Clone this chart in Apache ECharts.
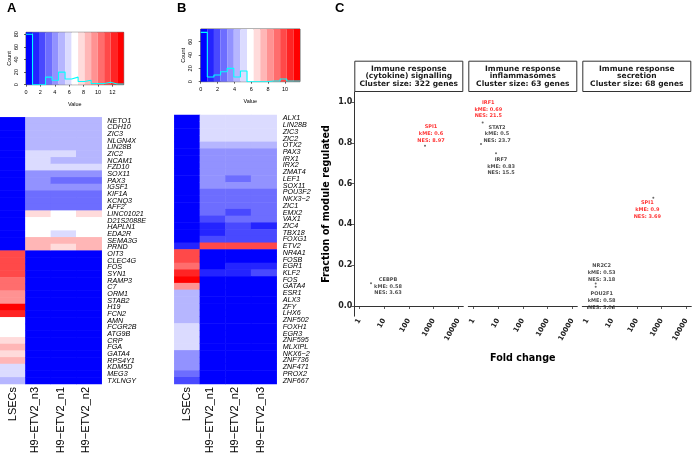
<!DOCTYPE html>
<html><head><meta charset="utf-8">
<script src="https://cdn.jsdelivr.net/npm/echarts@6/dist/echarts.min.js"></script>
<style>html,body{margin:0;padding:0;background:#fff}#c{width:692px;height:461px}</style>
</head><body><div id="c"></div>
<script>
// ---------- Panel A heatmap ----------
const colsA = ['LSECs', 'H9\u2212ETV2_n3', 'H9\u2212ETV2_n1', 'H9\u2212ETV2_n2'];
const genesA = ['NETO1','CDH10','ZIC3','NLGN4X','LIN28B','ZIC2','NCAM1','FZD10','SOX11','PAX3','IGSF1','KIF1A','KCNQ3','AFF2','LINC01021','D21S2088E','HAPLN1','EDA2R','SEMA3G','PRND','OIT3','CLEC4G','FOS','SYN1','RAMP3','C7','ORM1','STAB2','H19','FCN2','AMN','FCGR2B','ATG9B','CRP','FGA','GATA4','RPS4Y1','KDM5D','MEG3','TXLNGY'];
const lsecA = [0.4,0.4,0.4,0.4,0.4,0.4,0.4,0.4,0.4,0.4,0.4,0.4,0.4,0.4,0.4,0.4,0.4,0.4,0.4,0.4,
               11.3,11.3,11.3,11.3,10.4,10.4,9.5,9.5,13.1,12.2,6.8,6.8,6.8,7.7,8.6,7.7,8.6,5.9,5.9,5.0];
const n3A = [5.0,5.0,5.0,5.0,5.0,5.9,5.9,5.9,4.1,4.1,4.1,3.2,3.2,3.2,7.7,6.8,6.8,6.8,8.6,8.6,
             0.4,0.4,0.4,0.4,0.4,0.4,0.4,0.4,0.4,0.4,0.4,0.4,0.4,0.4,0.4,0.4,0.4,0.4,0.4,0.4];
const n1A = [5.0,5.0,5.0,5.0,5.0,5.9,5.0,5.9,4.1,3.2,4.1,3.2,3.2,3.2,6.8,6.8,6.8,5.9,8.6,7.7,
             0.4,0.4,0.4,0.4,0.4,0.4,0.4,0.4,0.4,0.4,0.4,0.4,0.4,0.4,0.4,0.4,0.4,0.4,0.4,0.4];
const n2A = [5.0,5.0,5.0,5.0,5.0,5.0,5.0,5.9,4.1,3.2,4.1,3.2,3.2,3.2,7.7,6.8,6.8,6.8,8.6,8.6,
             0.4,0.4,0.4,0.4,0.4,0.4,0.4,0.4,0.4,0.4,0.4,0.4,0.4,0.4,0.4,0.4,0.4,0.4,0.4,0.4];
// Panel A colour key / histogram
const keyMaxA = 13.57;
const histCountsA = [80,0,0,12,7,20,9,12,5,7,2,2,4,1,1];
const histYMaxA = 83.2;
const histXTicksA = [0,2,4,6,8,10,12];
const histYTicksA = [0,20,40,60,80];

// ---------- Panel B heatmap ----------
const colsB = ['LSECs', 'H9\u2212ETV2_n1', 'H9\u2212ETV2_n2', 'H9\u2212ETV2_n3'];
const genesB = ['ALX1','LIN28B','ZIC3','ZIC2','OTX2','PAX3','IRX1','IRX2','ZMAT4','LEF1','SOX11','POU3F2','NKX3\u22122','ZIC1','EMX2','VAX1','ZIC4','TBX18','FOXG1','ETV2','NR4A1','FOSB','EGR1','KLF2','FOS','GATA4','ESR1','ALX3','ZFY','LHX6','ZNF502','FOXH1','EGR3','ZNF595','MLXIPL','NKX6\u22122','ZNF736','ZNF471','PROX2','ZNF667'];
const lsecB = [0.4,0.4,0.4,0.4,0.4,0.4,0.4,0.4,0.4,0.4,0.4,0.4,0.4,0.4,0.4,0.4,0.4,0.4,0.4,1.2,
               9.8,9.8,9.0,10.6,11.4,8.2,4.3,4.3,4.3,4.3,4.3,5.1,5.1,5.1,5.1,3.5,3.5,3.5,2.7,2.0];
const n1B = [5.1,5.1,5.1,5.1,4.3,3.5,3.5,3.5,3.5,3.5,3.5,2.7,2.7,2.7,2.7,2.0,1.2,1.2,2.0,9.8,
             0.4,0.4,0.4,1.2,0.4,0.4,0.4,0.4,0.4,0.4,0.4,0.4,0.4,0.4,0.4,0.4,0.4,0.4,0.4,0.4];
const n2B = [5.1,5.1,5.1,5.1,4.3,3.5,3.5,3.5,3.5,2.7,3.5,2.7,2.7,2.7,2.0,2.7,2.0,2.0,2.0,9.8,
             0.4,0.4,1.2,1.2,0.4,0.4,0.4,0.4,0.4,0.4,0.4,0.4,0.4,0.4,0.4,0.4,0.4,0.4,0.4,0.4];
const n3B = [5.1,5.1,5.1,5.1,4.3,3.5,3.5,3.5,3.5,3.5,3.5,2.7,2.7,2.7,2.7,2.7,1.2,2.0,2.0,9.8,
             0.4,0.4,1.2,2.0,0.4,0.4,0.4,0.4,0.4,0.4,0.4,0.4,0.4,0.4,0.4,0.4,0.4,0.4,0.4,0.4];
const keyMaxB = 11.78;
const histCountsB = [74,7,10,15,20,7,16,0,0,0,1,1,4,1,1];
const histYMaxB = 79;
const histXTicksB = [0,2,4,6,8,10];
const histYTicksB = [0,20,40,60];
const nKeyColors = 15;

// ---------- Panel C ----------
const facetTitles = ['Immune response\n(cytokine) signalling\nCluster size: 322 genes',
                     'Immune response\ninflammasomes\nCluster size: 63 genes',
                     'Immune response\nsecretion\nCluster size: 68 genes'];
const tfFacet = [0,0,1,1,1,2,2,2];
const tfName = ['SPI1','CEBPB','IRF1','STAT2','IRF7','SPI1','NR2C2','POU2F1'];
const tfFold = [451, 2.98, 2.4, 2.06, 8.3, 464, 2.19, 2.19];
const tfFraction = [0.786, 0.111, 0.90, 0.794, 0.749, 0.531, 0.110, 0.094];
const tfKME = ['0.6','0.58','0.69','0.5','0.83','0.9','0.53','0.58'];
const tfNES = ['8.97','3.63','21.5','23.7','15.5','3.69','3.18','3.04'];
const tfHighlight = [true,false,true,false,false,true,false,false];
const foldTicks = [1,10,100,1000,10000];
const fracTicks = [0,0.2,0.4,0.6,0.8,1.0];

// ---------- styling / layout ----------
const labelOffsets = [[6,-12],[17,3],[5.6,-13],[16,-10],[5,13],[-6,12.3],[6,-11],[6,14]];
const facetLefts = [354.3, 468.3, 582.3];
const facetW = 109, facetTop = 91.8, facetH = 224.4;
const stripTop = 60.7, stripH = 30.3;

function keyColor(i) {
  const mid = (nKeyColors - 1) / 2;
  if (i < mid) { const c = Math.round(255 * i / mid); return 'rgb(' + c + ',' + c + ',255)'; }
  if (i === mid) return '#ffffff';
  const c = Math.round(255 * (nKeyColors - 1 - i) / mid); return 'rgb(255,' + c + ',' + c + ')';
}
function keyEdges(max) { const w = max / nKeyColors; const e = []; for (let i = 0; i <= nKeyColors; i++) e.push(i * w); return e; }
function keyPieces(max) {
  const e = keyEdges(max);
  return e.slice(0, -1).map((v, i) => ({ gte: v, lt: i === nKeyColors - 1 ? max + 1 : e[i + 1], color: keyColor(i) }));
}
function bandData(max) { const e = keyEdges(max); return e.slice(0, -1).map((v, i) => [v, e[i + 1], i]); }
function stepData(max, counts) {
  const e = keyEdges(max);
  const d = counts.map((c, i) => [e[i], c]);
  d.push([e[e.length - 1], counts[counts.length - 1]]);
  return d;
}
function heatData(cols) {
  const d = [];
  cols.forEach((arr, c) => arr.forEach((v, r) => d.push([c, r, v])));
  return d;
}
const smallFont = { fontFamily: 'Liberation Sans', fontSize: 5.5, color: '#000' };

function histAxes(gi, xmax, ymax, xt, yt) {
  return {
    x: { type: 'value', gridIndex: gi, min: 0, max: xmax, name: 'Value', nameLocation: 'middle', nameGap: 17,
         nameTextStyle: smallFont,
         axisLine: { show: false }, splitLine: { show: false },
         axisTick: { show: true, length: 2, lineStyle: { color: '#000', width: 0.6 }, customValues: xt },
         axisLabel: Object.assign({ margin: 5, customValues: xt }, smallFont) },
    y: { type: 'value', gridIndex: gi, min: 0, max: ymax, name: 'Count', nameLocation: 'middle', nameGap: 14, nameRotate: 90,
         nameTextStyle: smallFont,
         axisLine: { show: false }, splitLine: { show: false },
         axisTick: { show: true, length: 2, lineStyle: { color: '#000', width: 0.6 }, customValues: yt },
         axisLabel: Object.assign({ margin: 7, rotate: 90, customValues: yt }, smallFont) }
  };
}
function heatAxes(gi, cols, genes, margin) {
  return {
    x: { type: 'category', gridIndex: gi, data: cols, position: 'bottom',
         axisLine: { show: false }, axisTick: { show: false }, splitLine: { show: false },
         axisLabel: { rotate: 90, interval: 0, fontSize: 11, fontFamily: 'Liberation Sans', color: '#000', margin: 3,
                      formatter: v => v.indexOf('_') >= 0 ? '{h|' + v + '}' : v,
                      rich: { h: { fontSize: 11, fontFamily: 'Liberation Sans', color: '#000', padding: [0, 0, 6, 0] } } } },
    y: { type: 'category', gridIndex: gi, data: genes, inverse: true, position: 'right',
         axisLine: { show: false }, axisTick: { show: false }, splitLine: { show: false },
         axisLabel: { interval: 0, fontSize: 7.2, fontStyle: 'italic', fontFamily: 'Liberation Sans', color: '#000', margin: margin } }
  };
}
const hA = histAxes(0, keyMaxA, histYMaxA, histXTicksA, histYTicksA);
const mA = heatAxes(1, colsA, genesA, 5.6);
const hB = histAxes(2, keyMaxB, histYMaxB, histXTicksB, histYTicksB);
const mB = heatAxes(3, colsB, genesB, 6);

const facetX = facetLefts.map((l, f) => ({
  type: 'log', logBase: 10, gridIndex: 4 + f, min: Math.pow(10, -0.2), max: Math.pow(10, 4.2),
  name: f === 1 ? 'Fold change' : '', nameLocation: 'middle', nameGap: 37,
  nameTextStyle: { fontFamily: 'DejaVu Sans', fontWeight: 'bold', fontSize: 9.6, color: '#000' },
  axisLine: { show: true, lineStyle: { color: '#333', width: 1 } },
  axisTick: { show: true, length: 3, lineStyle: { color: '#333', width: 0.8 }, customValues: foldTicks },
  splitLine: { show: false }, minorTick: { show: false },
  axisLabel: { customValues: foldTicks, rotate: 60, margin: 3, fontFamily: 'DejaVu Sans', fontWeight: 'bold', fontSize: 7, color: '#222',
               formatter: v => String(Math.round(v)) }
}));
const facetY = facetLefts.map((l, f) => ({
  type: 'value', gridIndex: 4 + f, min: -0.05, max: 1.05, show: f === 0,
  name: f === 0 ? 'Fraction of module regulated' : '', nameLocation: 'middle', nameGap: 23, nameRotate: 90,
  nameTextStyle: { fontFamily: 'DejaVu Sans', fontWeight: 'bold', fontSize: 9.6, color: '#000' },
  axisLine: { show: f === 0, lineStyle: { color: '#333', width: 1 } },
  axisTick: { show: f === 0, length: 3, lineStyle: { color: '#333', width: 0.8 }, customValues: fracTicks },
  splitLine: { show: false },
  axisLabel: { show: f === 0, customValues: fracTicks, margin: 2, fontFamily: 'DejaVu Sans', fontWeight: 'bold', fontSize: 8, color: '#222',
               formatter: v => v.toFixed(1) }
}));

function bandSeries(ai, max, ymax) {
  return {
    type: 'custom', xAxisIndex: ai, yAxisIndex: ai, z: 1, silent: true,
    data: bandData(max), encode: { x: [0, 1] },
    renderItem: (params, api) => {
      const p0 = api.coord([api.value(0), ymax]);
      const p1 = api.coord([api.value(1), 0]);
      return { type: 'rect', shape: { x: p0[0], y: p0[1], width: p1[0] - p0[0], height: p1[1] - p0[1] },
               style: { fill: keyColor(api.value(2)) } };
    }
  };
}
function lineSeries(ai, max, counts) {
  return { type: 'line', xAxisIndex: ai, yAxisIndex: ai, z: 3, step: 'end', showSymbol: false, silent: true,
           data: stepData(max, counts), lineStyle: { color: '#00FFFF', width: 1.1 } };
}
function heatSeries(ai, cols) {
  return { type: 'heatmap', xAxisIndex: ai, yAxisIndex: ai, data: heatData(cols), silent: true,
           itemStyle: { borderWidth: 0 }, emphasis: { disabled: true } };
}

const facetSeries = facetLefts.map((l, f) => ({
  type: 'scatter', xAxisIndex: 4 + f, yAxisIndex: 4 + f, symbolSize: 2, z: 5, silent: true,
  itemStyle: { color: '#444' },
  label: { show: true, position: 'inside', fontFamily: 'DejaVu Sans', fontWeight: 'bold', fontSize: 5, lineHeight: 6.8,
           align: 'center', verticalAlign: 'middle' },
  data: tfName.map((n, i) => i).filter(i => tfFacet[i] === f).map(i => ({
    name: tfName[i], value: [tfFold[i], tfFraction[i]],
    label: { offset: labelOffsets[i], color: tfHighlight[i] ? '#FF0000' : '#222',
             formatter: tfName[i] + '\nkME: ' + tfKME[i] + '\nNES: ' + tfNES[i] }
  }))
}));

const grids = [
  { left: 26, top: 32.3, width: 97.7, height: 52.4, show: true, borderColor: '#000', borderWidth: 0.6, backgroundColor: 'transparent' },
  { left: 0, top: 117.3, width: 101.7, height: 266.7 },
  { left: 200.7, top: 29, width: 99.3, height: 52.7, show: true, borderColor: '#000', borderWidth: 0.6, backgroundColor: 'transparent' },
  { left: 174.3, top: 115, width: 102.4, height: 269 }
].concat(facetLefts.map(l => ({ left: l, top: facetTop, width: facetW, height: facetH })));
grids.forEach(g => { g.containLabel = false; g.outerBoundsMode = 'none'; });

const graphics = [];
[['A', 7], ['B', 177], ['C', 335]].forEach(([t, x]) => graphics.push({
  type: 'text', left: x, top: 1.5, style: { text: t, font: 'bold 13px "Liberation Sans"', fill: '#000' }
}));
facetLefts.forEach((l, f) => {
  graphics.push({ type: 'rect', shape: { x: l + 0.5, y: stripTop + 0.5, width: facetW - 1, height: stripH },
                  style: { fill: '#fff', stroke: '#333', lineWidth: 1 }, z: 10 });
  graphics.push({ type: 'text', x: l + facetW / 2, y: stripTop + stripH / 2 + 0.5, z: 11,
                  style: { text: facetTitles[f], align: 'center', verticalAlign: 'middle', fontFamily: 'DejaVu Sans',
                           fontWeight: 'bold', fontSize: 7.5, lineHeight: 7.8, fill: '#1a1a1a' } });
});

const chart = echarts.init(document.getElementById('c'), null, { renderer: 'canvas' });
chart.setOption({
  animation: false,
  backgroundColor: '#fff',
  grid: grids,
  xAxis: [hA.x, mA.x, hB.x, mB.x].concat(facetX),
  yAxis: [hA.y, mA.y, hB.y, mB.y].concat(facetY),
  visualMap: [
    { type: 'piecewise', show: false, seriesIndex: 2, pieces: keyPieces(keyMaxA) },
    { type: 'piecewise', show: false, seriesIndex: 5, pieces: keyPieces(keyMaxB) }
  ],
  series: [
    bandSeries(0, keyMaxA, histYMaxA), lineSeries(0, keyMaxA, histCountsA), heatSeries(1, [lsecA, n3A, n1A, n2A]),
    bandSeries(2, keyMaxB, histYMaxB), lineSeries(2, keyMaxB, histCountsB), heatSeries(3, [lsecB, n1B, n2B, n3B])
  ].concat(facetSeries),
  graphic: graphics
});
</script></body></html>
